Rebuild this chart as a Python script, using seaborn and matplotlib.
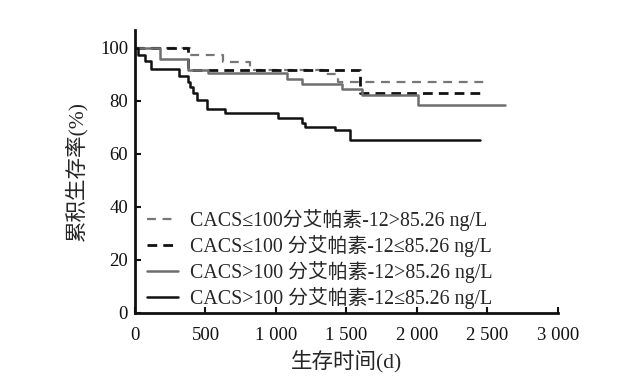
import matplotlib
matplotlib.use("Agg")
import matplotlib.pyplot as plt
import seaborn as sns
import pandas as pd

sns.set_style("ticks")
plt.rcParams['font.family'] = ['Liberation Serif', 'Noto Sans CJK SC']

# Data
gd_t = [0, 390, 624, 816, 1333, 1440, 2482]
gd_s = [100, 97.4, 94.8, 91.7, 90.0, 87.3, 87.3]

bd_t = [0, 376, 1596, 2447]
bd_s = [100, 91.7, 83.1, 83.1]

gs_t = [0, 177, 376, 517, 1076, 1183, 1466, 1608, 2005, 2624]
gs_s = [100, 95.7, 91.7, 90.4, 88.2, 86.4, 84.4, 82.3, 78.5, 78.5]

bs_t = [0, 23, 71, 111, 314, 376, 390, 410, 440, 508, 638, 1012, 1182, 1206, 1418, 1525, 2447]
bs_s = [100, 97.4, 95.2, 92.0, 89.5, 87.3, 85.4, 82.9, 80.4, 76.9, 75.4, 73.5, 71.6, 70.1, 69.1, 65.3, 65.3]

labels = ["CACS≤100分艾帕素-12>85.26 ng/L",
          "CACS≤100 分艾帕素-12≤85.26 ng/L",
          "CACS>100 分艾帕素-12>85.26 ng/L",
          "CACS>100 分艾帕素-12≤85.26 ng/L"]

x_ticks = [0, 500, 1000, 1500, 2000, 2500, 3000]
x_ticklabels = ["0", "500", "1 000", "1 500", "2 000", "2 500", "3 000"]
y_ticks = [0, 20, 40, 60, 80, 100]

fig = plt.figure(figsize=(6.35, 3.84), dpi=100)
ax = fig.add_axes([0.2126, 0.185, 0.8787 - 0.2126, 0.922 - 0.185])

series = [(gd_t, gd_s, "#777777", 1.6, (4, 3)),
          (bd_t, bd_s, "#111111", 2.0, (3.5, 2.2)),
          (gs_t, gs_s, "#6e6e6e", 1.8, None),
          (bs_t, bs_s, "#111111", 1.8, None)]

for (t, s, c, lw, d), lab in zip(series, labels):
    df = pd.DataFrame({"t": t, "s": s})
    sns.lineplot(data=df, x="t", y="s", ax=ax, color=c, linewidth=lw,
                 drawstyle="steps-post", label=lab, estimator=None)
    line = ax.get_lines()[-1]
    if d is not None:
        line.set_dashes(d)

ax.set_xlim(0, 3000)
ax.set_ylim(0, 106.8)
ax.set_xticks(x_ticks)
ax.set_xticklabels(x_ticklabels)
ax.set_yticks(y_ticks)
ax.tick_params(direction="in", length=4, width=1.5, labelsize=13.5, colors="#111111")
ax.tick_params(axis="x", pad=10)
ax.tick_params(axis="y", pad=5)
for sp in ["top", "right"]:
    ax.spines[sp].set_visible(False)
for sp in ["left", "bottom"]:
    ax.spines[sp].set_linewidth(2)
    ax.spines[sp].set_color("#111111")

ax.set_xlabel("生存时间(d)", fontsize=15.5, labelpad=4)
ax.set_ylabel("累积生存率(%)", fontsize=15.5, labelpad=9)

leg = ax.legend(loc="lower left", bbox_to_anchor=(0.028, 0.015), frameon=False,
                fontsize=14.3, handlelength=1.55, labelspacing=0.2,
                handletextpad=0.6, borderaxespad=0.0, borderpad=0.0)

fig.savefig("out.png", dpi=100)
